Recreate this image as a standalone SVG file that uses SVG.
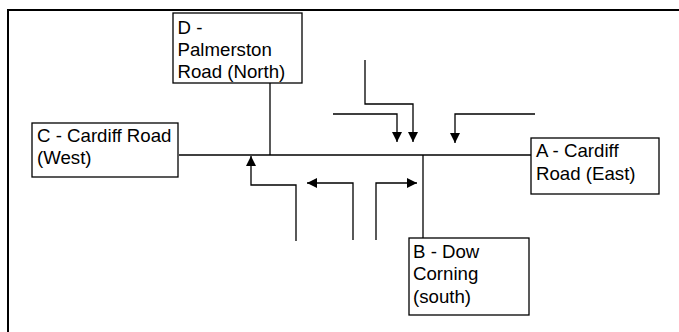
<svg xmlns="http://www.w3.org/2000/svg" width="679" height="332" viewBox="0 0 679 332">
<style>
.box{fill:#fff;stroke:#000;stroke-width:1.3}
.lbl{font-family:"Liberation Sans",Arial,sans-serif;font-size:18.67px;fill:#000}
.ln{fill:none;stroke:#000;stroke-width:1.3}
.frame{fill:none;stroke:#000;stroke-width:2}
</style>
<defs>
<marker id="ah" viewBox="0 0 10 10" refX="10" refY="5" markerWidth="10" markerHeight="10" markerUnits="userSpaceOnUse" orient="auto">
<path d="M0,0 L10,5 L0,10 Z" fill="#000"/>
</marker>
</defs>
<path class="frame" d="M8,332 V10 H679"/>
<g id="connectors">
<path class="ln" d="M179,155 H531"/>
<path class="ln" d="M270,83 V155"/>
<path class="ln" d="M423,155 V238"/>
<path class="ln" d="M296,241 V185 H251 V156" marker-end="url(#ah)"/>
<path class="ln" d="M353,240 V183 H307" marker-end="url(#ah)"/>
<path class="ln" d="M376,240 V183 H417" marker-end="url(#ah)"/>
<path class="ln" d="M333,114 H397 V142" marker-end="url(#ah)"/>
<path class="ln" d="M365,60 V104 H413 V142" marker-end="url(#ah)"/>
<path class="ln" d="M535,114 H455 V143" marker-end="url(#ah)"/>
</g>
<g id="nodeD">
<rect class="box" x="173" y="13" width="129" height="70"/>
<text class="lbl" x="177.5" y="34">D -</text>
<text class="lbl" x="177.5" y="56">Palmerston</text>
<text class="lbl" x="177.5" y="78">Road (North)</text>
</g>
<g id="nodeC">
<rect class="box" x="32" y="123" width="146" height="54"/>
<text class="lbl" x="37" y="141.7">C - Cardiff Road</text>
<text class="lbl" x="37" y="163.5">(West)</text>
</g>
<g id="nodeA">
<rect class="box" x="531" y="138" width="128" height="56"/>
<text class="lbl" x="536" y="157">A - Cardiff</text>
<text class="lbl" x="536" y="180">Road (East)</text>
</g>
<g id="nodeB">
<rect class="box" x="409" y="238" width="120" height="77"/>
<text class="lbl" x="413" y="258">B - Dow</text>
<text class="lbl" x="413" y="280">Corning</text>
<text class="lbl" x="413" y="302.5">(south)</text>
</g>
</svg>
